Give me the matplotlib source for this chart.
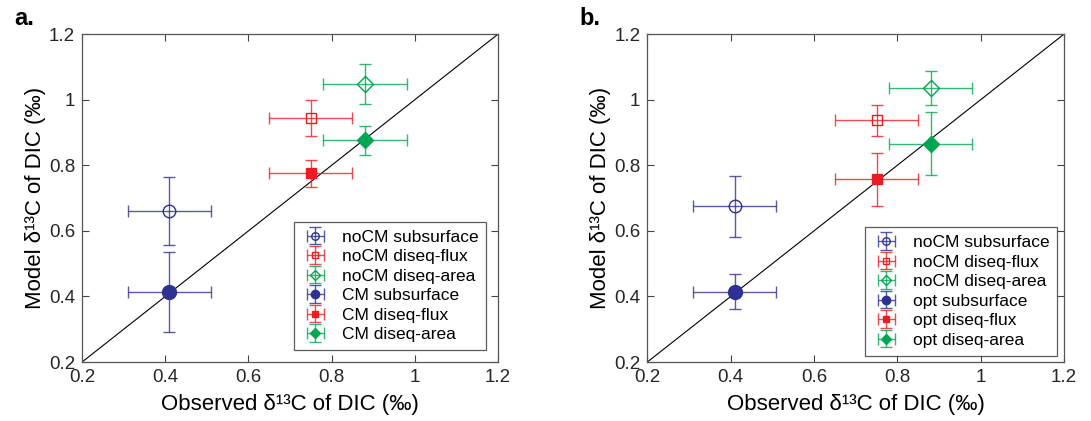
import numpy as np
import matplotlib.pyplot as plt

plt.rcParams['font.family'] = ['Liberation Sans', 'DejaVu Sans']

# panel a
labels_a = ['noCM subsurface', 'noCM diseq-flux', 'noCM diseq-area',
            'CM subsurface', 'CM diseq-flux', 'CM diseq-area']
obs_a = [0.41, 0.75, 0.88, 0.41, 0.75, 0.88]
obs_err_a = [0.10, 0.10, 0.10, 0.10, 0.10, 0.10]
mod_a = [0.66, 0.945, 1.048, 0.415, 0.775, 0.876]
mod_err_a = [0.103, 0.055, 0.062, 0.122, 0.04, 0.045]

# panel b
labels_b = ['noCM subsurface', 'noCM diseq-flux', 'noCM diseq-area',
            'opt subsurface', 'opt diseq-flux', 'opt diseq-area']
obs_b = [0.41, 0.75, 0.88, 0.41, 0.75, 0.88]
obs_err_b = [0.10, 0.10, 0.10, 0.10, 0.10, 0.10]
mod_b = [0.675, 0.937, 1.037, 0.415, 0.757, 0.865]
mod_err_b = [0.093, 0.048, 0.052, 0.053, 0.081, 0.096]

colors = ['#2E3192', '#ED1C24', '#00A651'] * 2
markers = ['o', 's', 'D', 'o', 's', 'D']
msizes = [9, 7, 8, 10, 7, 8]
filled = [False, False, False, True, True, True]


def panel(ax, obs, obs_err, mod, mod_err, labels, tag, leg_anchor):
    ax.plot([0.2, 1.2], [0.2, 1.2], color='k', lw=0.8, zorder=1)
    for i in range(len(obs)):
        c = colors[i]
        eb = ax.errorbar(obs[i], mod[i], xerr=obs_err[i], yerr=mod_err[i],
                         fmt=markers[i], color=c, ecolor=c, elinewidth=1.0,
                         capsize=4, capthick=1.0, ms=msizes[i],
                         mfc=c if filled[i] else 'none', mec=c, mew=1.0,
                         label=labels[i], zorder=3)
        for ln in eb[1]:
            ln.set_alpha(0.8)
        for lc in eb[2]:
            lc.set_alpha(0.8)
    ax.set_xlim(0.2, 1.2)
    ax.set_ylim(0.2, 1.2)
    ticks = [0.2, 0.4, 0.6, 0.8, 1.0, 1.2]
    ticklabels = ['0.2', '0.4', '0.6', '0.8', '1', '1.2']
    ax.set_xticks(ticks)
    ax.set_xticklabels(ticklabels)
    ax.set_yticks(ticks)
    ax.set_yticklabels(ticklabels)
    ax.tick_params(direction='in', top=True, right=True, labelsize=13.5,
                   length=5, width=0.8, color='#444444', labelcolor='#262626',
                   pad=5)
    for s in ax.spines.values():
        s.set_color('#555555')
        s.set_linewidth(0.9)
    ax.set_xlabel('Observed δ¹³C of DIC (‰)', fontsize=16, labelpad=6)
    ax.set_ylabel('Model δ¹³C of DIC (‰)', fontsize=16, labelpad=2)
    leg = ax.legend(loc='lower right', bbox_to_anchor=leg_anchor,
                    borderaxespad=0, fontsize=12.5, frameon=True,
                    fancybox=False, edgecolor='#333333', labelspacing=0.25,
                    handlelength=1.6, handletextpad=0.7, borderpad=0.45,
                    markerscale=0.6)
    leg.get_frame().set_linewidth(0.9)
    ax.text(-0.163, 1.027, tag, transform=ax.transAxes, fontsize=17,
            fontweight='bold', va='baseline')


fig = plt.figure(figsize=(10.91, 4.21), dpi=100)
ax1 = fig.add_axes([0.0752, 0.140, 0.3813, 0.779])
ax2 = fig.add_axes([0.5933, 0.140, 0.382, 0.779])
panel(ax1, obs_a, obs_err_a, mod_a, mod_err_a, labels_a, 'a.', (0.971, 0.037))
panel(ax2, obs_b, obs_err_b, mod_b, mod_err_b, labels_b, 'b.', (0.983, 0.020))

fig.savefig('out.png', dpi=100)
